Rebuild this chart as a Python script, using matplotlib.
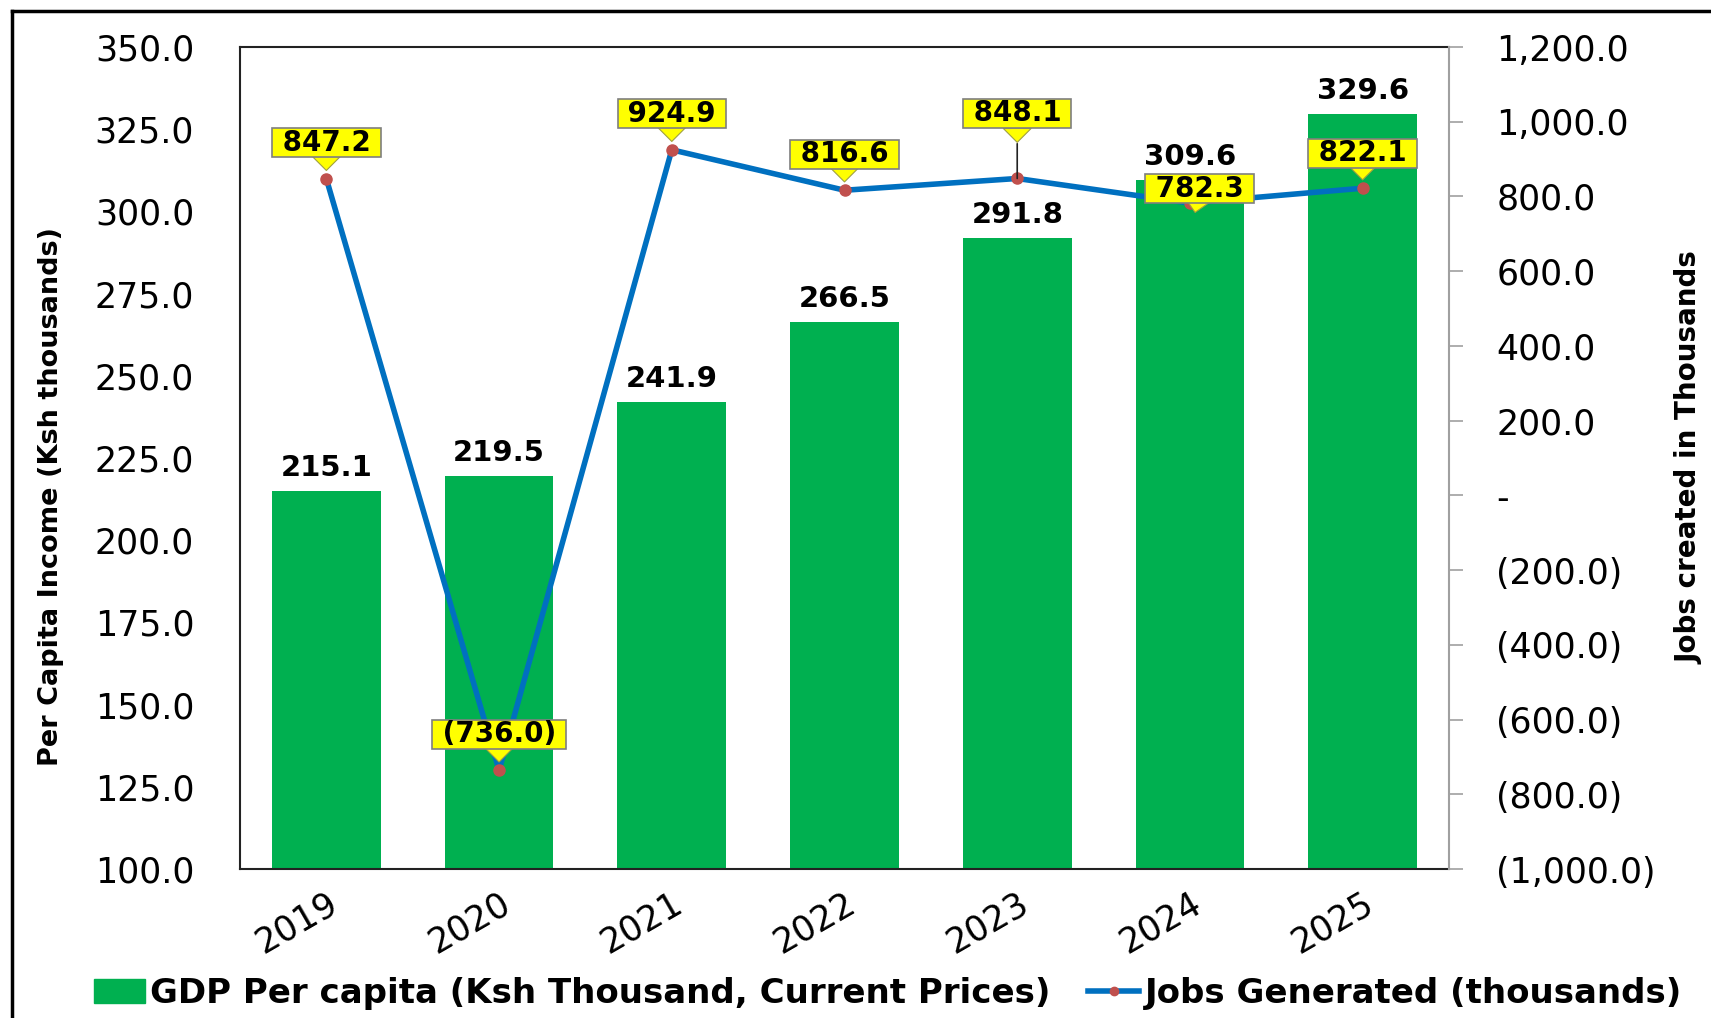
import matplotlib
matplotlib.use("Agg")
import matplotlib.pyplot as plt
from matplotlib.ticker import FuncFormatter, FixedLocator
from matplotlib.lines import Line2D
from matplotlib.patches import Patch

plt.rcParams['font.family'] = ['DejaVu Sans']

years = ["2019", "2020", "2021", "2022", "2023", "2024", "2025"]
gdp_per_capita = [215.1, 219.5, 241.9, 266.5, 291.8, 309.6, 329.6]
jobs = [847.2, -736.0, 924.9, 816.6, 848.1, 782.3, 822.1]
left_ticks = [100, 125, 150, 175, 200, 225, 250, 275, 300, 325, 350]
right_ticks = [-1000, -800, -600, -400, -200, 0, 200, 400, 600, 800, 1000, 1200]

GREEN = "#00B050"
BLUE = "#0070C0"
RED = "#C0504D"

def acct(v):
    if abs(v) < 1e-9:
        return "-"
    s = f"{abs(v):,.1f}"
    return f"({s})" if v < 0 else s

fig = plt.figure(figsize=(17.11, 10.18), dpi=100)
ax = fig.add_axes([240/1711, 1-869/1018, (1449-240)/1711, (869-47)/1018])
ax2 = ax.twinx()

x = list(range(len(years)))
ax.bar(x, gdp_per_capita, width=0.63, color=GREEN, zorder=2)
ax.set_xlim(-0.5, len(years) - 0.5)
ax.set_ylim(100, 350)
ax.yaxis.set_major_locator(FixedLocator(left_ticks))
ax.yaxis.set_major_formatter(FuncFormatter(lambda v, p: f"{v:.1f}"))
ax.tick_params(axis='y', length=0, pad=33, labelsize=25)
ax.set_xticks(x)
ax.set_xticklabels(years, rotation=30, ha='right', rotation_mode='anchor')
ax.tick_params(axis='x', length=0, pad=12, labelsize=25)

for i, v in enumerate(gdp_per_capita):
    ax.annotate(f"{v:.1f}", xy=(i, v), xytext=(0, 6.5), textcoords='offset points',
                ha='center', va='bottom', fontsize=21, fontweight='bold', zorder=5)

for s in ['left', 'top', 'bottom']:
    ax.spines[s].set_color('#222222')
    ax.spines[s].set_linewidth(1.5)
ax.spines['right'].set_visible(False)

ax2.plot(x, jobs, color=BLUE, lw=4, marker='o', markersize=8,
         markerfacecolor=RED, markeredgecolor=RED, zorder=3)
ax2.set_ylim(-1000, 1200)
ax2.yaxis.set_major_locator(FixedLocator(right_ticks))
ax2.yaxis.set_major_formatter(FuncFormatter(lambda v, p: acct(v)))
ax2.tick_params(axis='y', length=10, width=1.2, color='#A0A0A0', pad=24, labelsize=25)
ax2.spines['right'].set_color('#A0A0A0')
ax2.spines['right'].set_linewidth(1.5)
for s in ['left', 'top', 'bottom']:
    ax2.spines[s].set_visible(False)

# label offsets (points) and arrow gaps
offsets = [(0, 26), (0, 26), (0, 26), (0, 26), (0, 47), (3, 17), (0, 25)]
for i, v in enumerate(jobs):
    dx, dy = offsets[i]
    shrink = 6
    if i == 4:
        shrink = 26
        ax2.annotate("", xy=(i, v), xytext=(0, dy - 12 - 10), textcoords='offset points',
                     arrowprops=dict(arrowstyle='-', color='#222222', lw=1.2,
                                     shrinkA=0, shrinkB=0), zorder=4)
    if i == 5:
        xy = (i + 0.03, v - 25)
        shrink = 0
    else:
        xy = (i, v)
    ax2.annotate(" " + acct(v) + " ", xy=xy, xytext=(dx, dy), textcoords='offset points',
                 ha='center', va='center', fontsize=20, fontweight='bold', zorder=6,
                 bbox=dict(boxstyle='square,pad=0.02', fc='#FFFF00', ec='#7F7F7F', lw=1.2),
                 arrowprops=dict(arrowstyle='simple,head_length=0.5,head_width=1.0,tail_width=0.45',
                                 fc='#FFFF00', ec='#A0A040', lw=0.8, shrinkA=0, shrinkB=shrink))

fig.text(51/1711, 1-497/1018, "Per Capita Income (Ksh thousands)", rotation=90,
         ha='center', va='center', fontsize=19.5, fontweight='bold')
fig.text(1689/1711, 1-458/1018, "Jobs created in Thousands", rotation=90,
         ha='center', va='center', fontsize=20, fontweight='bold')

handles = [Patch(facecolor=GREEN, edgecolor=GREEN),
           Line2D([0], [0], color=BLUE, lw=4, marker='o', markersize=6,
                  markerfacecolor=RED, markeredgecolor=RED)]
fig.legend(handles, ["GDP Per capita (Ksh Thousand, Current Prices)",
                     "Jobs Generated (thousands)"],
           loc='center', bbox_to_anchor=(888/1711, 1-993/1018), ncol=2, frameon=False,
           prop={'size': 24.5, 'weight': 'bold'}, handlelength=1.5, handletextpad=0.15,
           columnspacing=1.1, borderaxespad=0, borderpad=0)

# figure border (top and left)
fig.add_artist(Line2D([12/1711, 12/1711], [0, 1-11/1018], transform=fig.transFigure,
                      color='black', lw=2.5))
fig.add_artist(Line2D([12/1711, 1], [1-11/1018, 1-11/1018], transform=fig.transFigure,
                      color='black', lw=2.5))

fig.savefig("out.png", dpi=100)
